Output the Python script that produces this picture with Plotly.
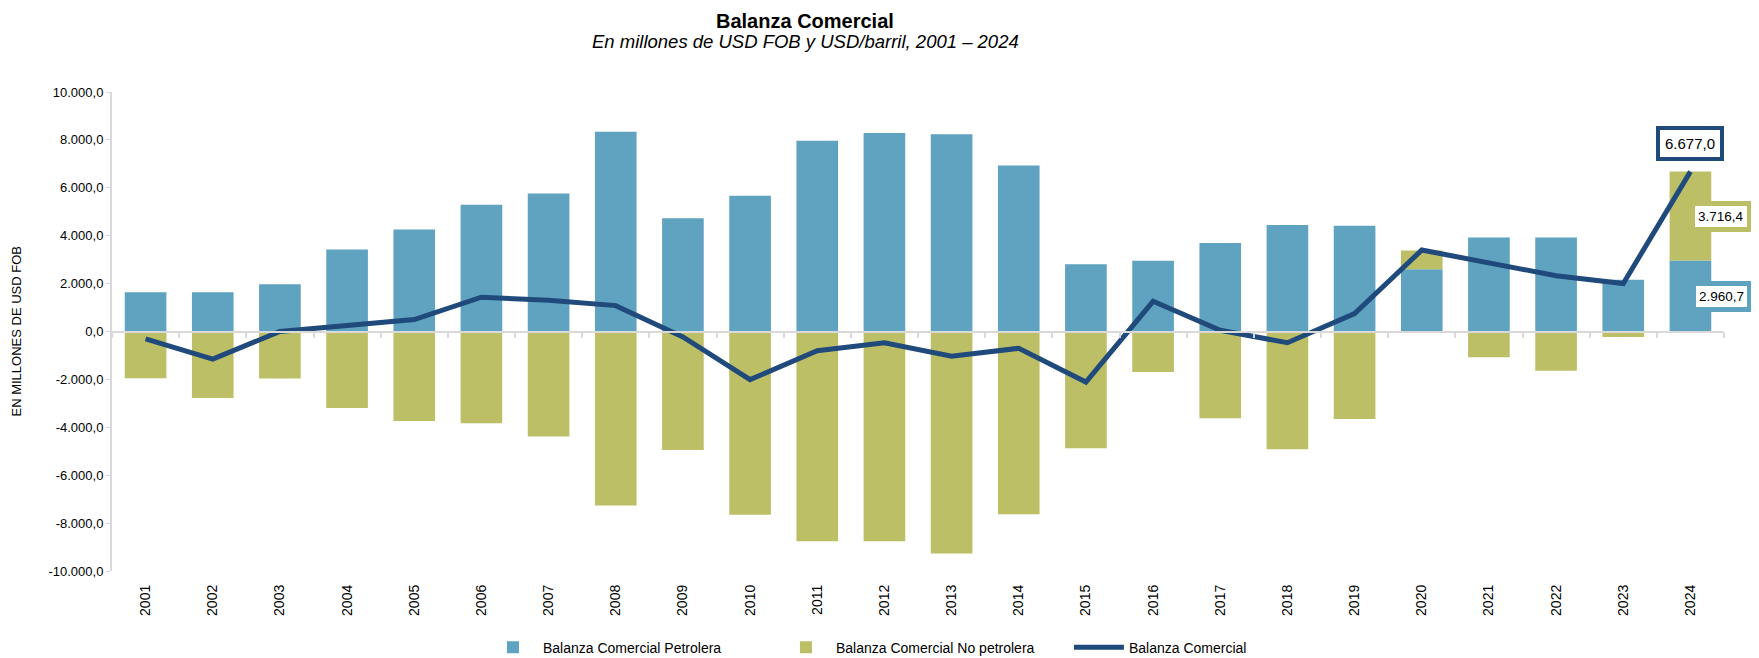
import plotly.graph_objects as go

YEARS = [str(y) for y in range(2001, 2025)]
PETROLERA = [1640, 1640, 1970, 3420, 4260, 5290, 5760, 8340, 4730, 5670, 7960, 8290,
             8240, 6930, 2810, 2950, 3700, 4450, 4420, 2600, 3920, 3930, 2160, 2960.7]
NO_PETROLERA = [-1950, -2780, -1960, -3190, -3740, -3830, -4380, -7270, -4950, -7650, -8760, -8760,
                -9270, -7630, -4870, -1690, -3620, -4920, -3650, 780, -1080, -1640, -230, 3716.4]
TOTAL = [-310, -1150, 0, 250, 500, 1430, 1300, 1080, -230, -2010, -800, -470,
         -1030, -700, -2110, 1260, 50, -470, 750, 3400, 2840, 2330, 2000, 6677.0]
Y_TICK_VALUES = [10000, 8000, 6000, 4000, 2000, 0, -2000, -4000, -6000, -8000, -10000]
Y_TICK_LABELS = ["10.000,0", "8.000,0", "6.000,0", "4.000,0", "2.000,0", "0,0",
                 "-2.000,0", "-4.000,0", "-6.000,0", "-8.000,0", "-10.000,0"]
LABEL_TOTAL = "6.677,0"
LABEL_NOPET = "3.716,4"
LABEL_PET = "2.960,7"

BLUE = "#5FA3C0"
OLIVE = "#BDBF66"
NAVY = "#1F4A7B"
FONT = "Liberation Sans Narrow, Arial Narrow, Liberation Sans, sans-serif"

fig = go.Figure()
fig.add_trace(go.Bar(x=YEARS, y=PETROLERA, name="Balanza Comercial Petrolera",
                     marker=dict(color=BLUE, line=dict(width=0))))
fig.add_trace(go.Bar(x=YEARS, y=NO_PETROLERA, name="Balanza Comercial No petrolera",
                     marker=dict(color=OLIVE, line=dict(width=0))))
fig.add_trace(go.Scatter(x=YEARS, y=TOTAL, name="Balanza Comercial", mode="lines",
                         xaxis="x2", line=dict(color=NAVY, width=5)))

last_idx = len(YEARS) - 1
pet_last = PETROLERA[-1]
nop_last = NO_PETROLERA[-1]
tot_last = TOTAL[-1]

annotations = [
    dict(text="<b>Balanza Comercial</b>", xref="paper", yref="paper",
         x=0.43, y=1, yshift=71, xanchor="center", yanchor="middle", showarrow=False,
         font=dict(family=FONT, size=20, color="#000000")),
    dict(text="<i>En millones de USD FOB y USD/barril, 2001 – 2024</i>", xref="paper", yref="paper",
         x=0.43, y=1, yshift=51, xanchor="center", yanchor="middle", showarrow=False,
         font=dict(family=FONT, size=18.5, color="#000000")),
    dict(text="EN MILLONES DE USD FOB", xref="paper", yref="paper", textangle=-90,
         x=0, xshift=-96, y=0.5, xanchor="center", yanchor="middle", showarrow=False,
         font=dict(family="Liberation Sans, Arial, sans-serif", size=13, color="#000000")),
    dict(text=LABEL_TOTAL, x=last_idx, y=tot_last, xref="x", yref="y", showarrow=False,
         yshift=28, bgcolor="white", bordercolor=NAVY, borderwidth=4, borderpad=5,
         font=dict(family=FONT, size=15, color="#000000")),
    dict(text=LABEL_NOPET, x=last_idx, y=pet_last + nop_last / 2, xref="x", yref="y", showarrow=False,
         xshift=31, bgcolor="white", bordercolor=OLIVE, borderwidth=5, borderpad=3,
         font=dict(family=FONT, size=13.5, color="#000000")),
    dict(text=LABEL_PET, x=last_idx, y=pet_last / 2, xref="x", yref="y", showarrow=False,
         xshift=31, bgcolor="white", bordercolor=BLUE, borderwidth=5, borderpad=3,
         font=dict(family=FONT, size=13.5, color="#000000")),
]

fig.update_layout(
    width=1759, height=658,
    margin=dict(l=104, r=43, t=84, b=95),
    paper_bgcolor="white", plot_bgcolor="white",
    barmode="relative", bargap=0.38,
    font=dict(family=FONT, size=13, color="#000000"),
    showlegend=True,
    legend=dict(orientation="h", xref="container", yref="container",
                x=0.27, y=0.028, xanchor="left", yanchor="middle",
                traceorder="normal", font=dict(family=FONT, size=14),
                itemwidth=50, entrywidth=228, entrywidthmode="pixels", tracegroupgap=0),
    xaxis=dict(type="category", range=[-0.5, len(YEARS) - 0.5], showline=False,
               showgrid=False, zeroline=False, ticks="", tickangle=-90,
               ticklabelstandoff=10, tickfont=dict(family="Liberation Sans, Arial, sans-serif", size=14)),
    xaxis2=dict(type="category", overlaying="x", range=[-0.5, len(YEARS) - 0.5],
                anchor="free", position=0.5, side="bottom", showline=True,
                linecolor="#D9D9D9", linewidth=2, ticks="outside", tickson="boundaries",
                ticklen=5, tickcolor="#D9D9D9", tickwidth=1.5,
                showticklabels=False, showgrid=False, zeroline=False),
    yaxis=dict(range=[-10000, 10000], tickvals=Y_TICK_VALUES, ticktext=Y_TICK_LABELS,
               showgrid=False, zeroline=False, showline=True, linecolor="#D9D9D9",
               linewidth=2, ticks="outside", ticklen=4, tickcolor="#D9D9D9",
               tickfont=dict(family=FONT, size=13)),
    annotations=annotations,
)

fig.write_html("out.html")
